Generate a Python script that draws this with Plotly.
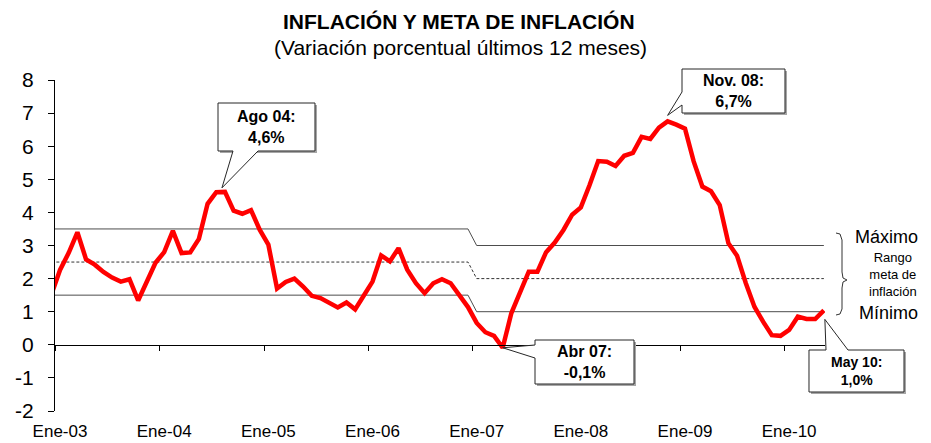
import plotly.graph_objects as go

# ---------------- data (12-month CPI variation, %), Dic-02 .. May-10 ----------------
inflacion = [
    1.52,                                                                     # Dic-02
    2.26, 2.78, 3.40, 2.58, 2.42, 2.20, 2.03, 1.91, 1.98, 1.34, 1.88, 2.48,   # 2003
    2.80, 3.44, 2.77, 2.79, 3.20, 4.26, 4.61, 4.62, 4.05, 3.96, 4.07, 3.48,   # 2004
    3.03, 1.70, 1.90, 2.00, 1.76, 1.48, 1.41, 1.26, 1.13, 1.28, 1.07, 1.49,   # 2005
    1.91, 2.70, 2.52, 2.92, 2.27, 1.86, 1.56, 1.86, 1.98, 1.86, 1.50, 1.14,   # 2006
    0.66, 0.38, 0.27, -0.09, 0.96, 1.60, 2.21, 2.21, 2.80, 3.09, 3.47, 3.93,  # 2007
    4.15, 4.82, 5.55, 5.53, 5.40, 5.71, 5.80, 6.28, 6.22, 6.56, 6.75, 6.65,   # 2008
    6.53, 5.54, 4.78, 4.64, 4.22, 3.07, 2.69, 1.87, 1.15, 0.70, 0.29, 0.27,   # 2009
    0.45, 0.85, 0.78, 0.78, 1.04,                                             # 2010
]
mes_idx = list(range(-1, len(inflacion) - 1))   # 0 = Ene-03

tick_labels = ["Ene-03", "Ene-04", "Ene-05", "Ene-06", "Ene-07", "Ene-08", "Ene-09", "Ene-10"]
tick_pos = [0, 12, 24, 36, 48, 60, 72, 84]
tick_bounds = [p - 0.5 for p in tick_pos]

y_ticks = [-2, -1, 0, 1, 2, 3, 4, 5, 6, 7, 8]
y_ticktext = ["-2", "-1", "0", "1", "2", "3", "4", "5", "6", "7", "8"]

# inflation target: centre and +/- range (step in Ene-07)
meta_x = [-1, 47, 48, 88]
meta_centro = [2.5, 2.5, 2.0, 2.0]
meta_rango = 1.0
meta_max = [c + meta_rango for c in meta_centro]
meta_min = [c - meta_rango for c in meta_centro]

# callouts: (label line 1, line 2, month index, value)
callouts = [
    ("Ago 04:", "4,6%", 19, 4.62),
    ("Nov. 08:", "6,7%", 70, 6.75),
    ("Abr 07:", "-0,1%", 51, -0.09),
    ("May 10:", "1,0%", 88, 1.04),
]

# ---------------- geometry ----------------
W_FIG, H_FIG = 931, 443
L, T, W, H = 55, 80, 770, 331
XMIN, XMAX = -0.58, 88.13
YMIN, YMAX = -2, 8
FONT = "Liberation Sans, Arial, sans-serif"


def px(xp):
    return (xp - L) / W


def py(yp):
    return (T + H - yp) / H


def xd(i):
    return L + (i - XMIN) / (XMAX - XMIN) * W


def yd(v):
    return T + (YMAX - v) / (YMAX - YMIN) * H


def path_from(points, dx=0, dy=0):
    s = "M " + " L ".join(f"{px(x + dx):.5f},{py(y + dy):.5f}" for x, y in points)
    return s + " Z"


fig = go.Figure()

# target band
fig.add_trace(go.Scatter(x=meta_x, y=meta_max, mode="lines",
                         line=dict(color="#4d4d4d", width=1), hoverinfo="skip", showlegend=False))
fig.add_trace(go.Scatter(x=meta_x, y=meta_centro, mode="lines",
                         line=dict(color="#333333", width=1, dash="3px,2px"), hoverinfo="skip", showlegend=False))
fig.add_trace(go.Scatter(x=meta_x, y=meta_min, mode="lines",
                         line=dict(color="#4d4d4d", width=1), hoverinfo="skip", showlegend=False))
# inflation
fig.add_trace(go.Scatter(x=mes_idx, y=inflacion, mode="lines",
                         line=dict(color="#ff0000", width=4.5), showlegend=False, name="Inflación"))
# dummy trace for the zero-crossing x axis
fig.add_trace(go.Scatter(x=[None], y=[None], xaxis="x2", showlegend=False, hoverinfo="skip"))

shapes = []
annotations = []

# callout boxes (box in pixels, wedge base, tip derived from the data point)
boxes = [
    dict(box=(218, 103, 315, 151), edge="bottom", base=(233, 258), tip_off=(-3, -4)),
    dict(box=(682, 69, 785, 113), edge="left", base=(92, 105), tip_off=(0, -6)),
    dict(box=(535, 340, 634, 384), edge="left", base=(345, 358), tip_off=(0, 0)),
    dict(box=(809, 350, 904, 392), edge="top", base=(826, 848), tip_off=(1, 9)),
]
for (l1, l2, mi, val), b in zip(callouts, boxes):
    x0, y0, x1, y1 = b["box"]
    tip = (xd(mi) + b["tip_off"][0], yd(val) + b["tip_off"][1])
    a, c = b["base"]
    if b["edge"] == "bottom":
        pts = [(x0, y0), (x1, y0), (x1, y1), (c, y1), tip, (a, y1), (x0, y1)]
    elif b["edge"] == "left":
        pts = [(x0, y0), (x1, y0), (x1, y1), (x0, y1), (x0, c), tip, (x0, a)]
    else:  # top
        pts = [(x0, y0), (a, y0), tip, (c, y0), (x1, y0), (x1, y1), (x0, y1)]
    rect = [(x0, y0), (x1, y0), (x1, y1), (x0, y1)]
    shapes.append(dict(type="path", xref="paper", yref="paper", path=path_from(rect, 2, 2),
                       fillcolor="#a6a6a6", line=dict(width=0), layer="above"))
    shapes.append(dict(type="path", xref="paper", yref="paper", path=path_from(pts),
                       fillcolor="white", line=dict(color="#262626", width=1), layer="above"))
    fs = 14 if l1.startswith("May") else 16
    annotations.append(dict(xref="paper", yref="paper", x=px((x0 + x1) / 2), y=py((y0 + y1) / 2),
                            text=f"<b>{l1}</b><br><b>{l2}</b>", showarrow=False,
                            font=dict(family=FONT, size=fs, color="black"),
                            xanchor="center", yanchor="middle", align="center"))

# brace for target range
brace = [(836, 233), (840, 234), (842, 240), (842, 272), (843, 278), (847, 280),
         (843, 282), (842, 288), (842, 309), (840, 314), (836, 315)]
shapes.append(dict(type="path", xref="paper", yref="paper",
                   path="M " + " L ".join(f"{px(x):.5f},{py(y):.5f}" for x, y in brace),
                   line=dict(color="#333333", width=1)))

annotations += [
    dict(xref="paper", yref="paper", x=px(886), y=py(237), text="Máximo", showarrow=False,
         font=dict(family=FONT, size=18, color="black"), xanchor="center", yanchor="middle"),
    dict(xref="paper", yref="paper", x=px(893), y=py(274), text="Rango<br>meta de<br>inflación",
         showarrow=False, font=dict(family=FONT, size=13, color="black"),
         xanchor="center", yanchor="middle", align="center"),
    dict(xref="paper", yref="paper", x=px(888), y=py(313), text="Mínimo", showarrow=False,
         font=dict(family=FONT, size=18, color="black"), xanchor="center", yanchor="middle"),
    dict(xref="paper", yref="paper", x=px(459), y=py(21), text="<b>INFLACIÓN Y META DE INFLACIÓN</b>",
         showarrow=False, font=dict(family=FONT, size=21, color="black"), xanchor="center", yanchor="middle"),
    dict(xref="paper", yref="paper", x=px(461), y=py(47), text="(Variación porcentual últimos 12 meses)",
         showarrow=False, font=dict(family=FONT, size=21, color="black"), xanchor="center", yanchor="middle"),
]

fig.update_layout(
    template="none",
    width=W_FIG, height=H_FIG,
    margin=dict(l=L, r=W_FIG - L - W, t=T, b=H_FIG - T - H, pad=0, autoexpand=False),
    paper_bgcolor="white", plot_bgcolor="white",
    font=dict(family=FONT, color="black"),
    shapes=shapes, annotations=annotations,
    xaxis=dict(range=[XMIN, XMAX], tickvals=tick_pos, ticktext=tick_labels, ticks="",
               showline=False, showgrid=False, zeroline=False, automargin=False,
               tickfont=dict(family=FONT, size=17, color="black"), ticklabelstandoff=8),
    xaxis2=dict(range=[XMIN, XMAX], overlaying="x", anchor="free", position=0.2,
                tickvals=tick_bounds, ticks="outside", ticklen=5, tickcolor="black",
                showticklabels=False, showline=True, linecolor="black", linewidth=1,
                showgrid=False, zeroline=False, automargin=False),
    yaxis=dict(range=[YMIN, YMAX], tickvals=y_ticks, ticktext=y_ticktext, ticks="outside",
               ticklen=6, tickcolor="black", showline=True, linecolor="black", linewidth=1,
               showgrid=False, zeroline=False, ticklabelstandoff=10, automargin=False,
               tickfont=dict(family=FONT, size=21, color="black")),
    showlegend=False,
)

fig.write_html("out.html", config={"displayModeBar": False},
               post_script="document.body.style.margin='0px';document.body.style.overflow='hidden';")
